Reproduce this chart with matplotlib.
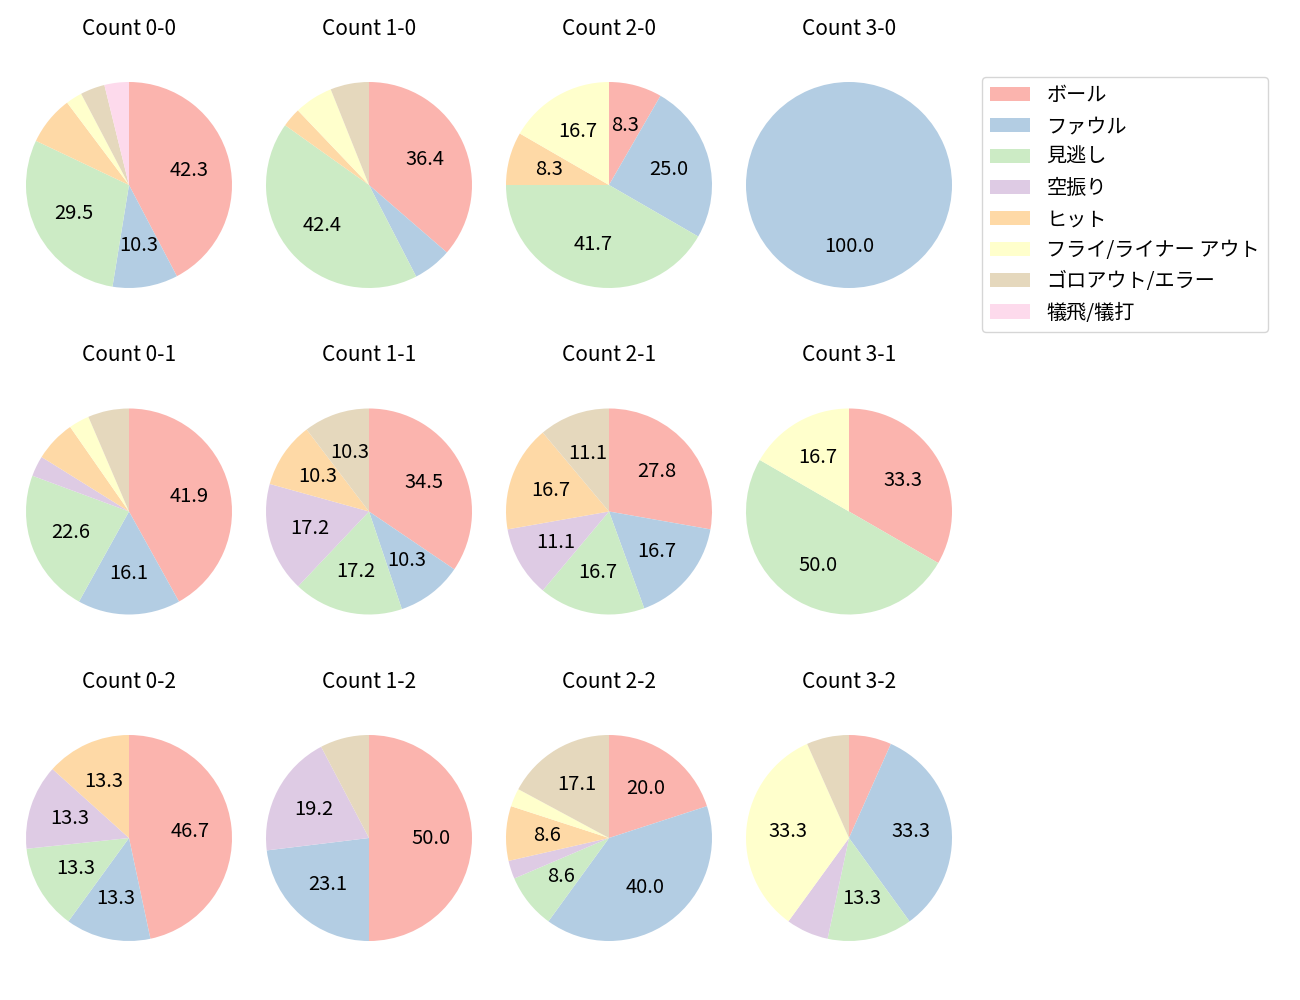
import matplotlib
matplotlib.use("Agg")
import matplotlib.pyplot as plt
from matplotlib.patches import Patch

# フォント設定（日本語）
plt.rcParams["font.family"] = ["Noto Sans CJK JP", "DejaVu Sans"]

# 結果カテゴリ
categories = ["ボール", "ファウル", "見逃し", "空振り", "ヒット",
              "フライ/ライナー アウト", "ゴロアウト/エラー", "犠飛/犠打"]

# カウントごとの件数: ボール, ファウル, 見逃し, 空振り, ヒット, フライ, ゴロ, 犠打
count_0_0 = [33, 8, 23, 0, 6, 2, 3, 3]
count_1_0 = [12, 2, 14, 0, 1, 2, 2, 0]
count_2_0 = [1, 3, 5, 0, 1, 2, 0, 0]
count_3_0 = [0, 1, 0, 0, 0, 0, 0, 0]
count_0_1 = [13, 5, 7, 1, 2, 1, 2, 0]
count_1_1 = [10, 3, 5, 5, 3, 0, 3, 0]
count_2_1 = [5, 3, 3, 2, 3, 0, 2, 0]
count_3_1 = [2, 0, 3, 0, 0, 1, 0, 0]
count_0_2 = [7, 2, 2, 2, 2, 0, 0, 0]
count_1_2 = [13, 6, 0, 5, 0, 0, 2, 0]
count_2_2 = [7, 14, 3, 1, 3, 1, 6, 0]
count_3_2 = [1, 5, 2, 1, 0, 5, 1, 0]

count_labels = [["0-0", "1-0", "2-0", "3-0"],
                ["0-1", "1-1", "2-1", "3-1"],
                ["0-2", "1-2", "2-2", "3-2"]]
count_values = [[count_0_0, count_1_0, count_2_0, count_3_0],
                [count_0_1, count_1_1, count_2_1, count_3_1],
                [count_0_2, count_1_2, count_2_2, count_3_2]]

colors = plt.get_cmap("Pastel1").colors[:8]


def pct_label(p):
    # 8%未満は表示しない
    return f"{p:.1f}" if p >= 8 else ""


W, H = 1300, 1000
fig = plt.figure(figsize=(13, 10), dpi=100)

r_px = 103
half_w, half_h = 120, 142
for i in range(3):
    for j in range(4):
        cx = 129 + 240 * j
        cy = 185 + 326.5 * i
        ax = fig.add_axes([(cx - half_w) / W, 1 - (cy + half_h) / H,
                           2 * half_w / W, 2 * half_h / H])
        ax.pie(count_values[i][j], colors=colors, startangle=90,
               counterclock=False, autopct=pct_label,
               textprops={"fontsize": 14.5})
        ax.set_xlim(-half_w / r_px, half_w / r_px)
        ax.set_ylim(-half_h / r_px, half_h / r_px)
        ax.set_title(f"Count {count_labels[i][j]}", fontsize=15)

handles = [Patch(facecolor=c, label=l) for c, l in zip(colors, categories)]
fig.legend(handles=handles, loc="upper left", borderaxespad=0,
           bbox_to_anchor=(982 / W, 1 - 77 / H), fontsize=14.5)

plt.savefig("out.png")
